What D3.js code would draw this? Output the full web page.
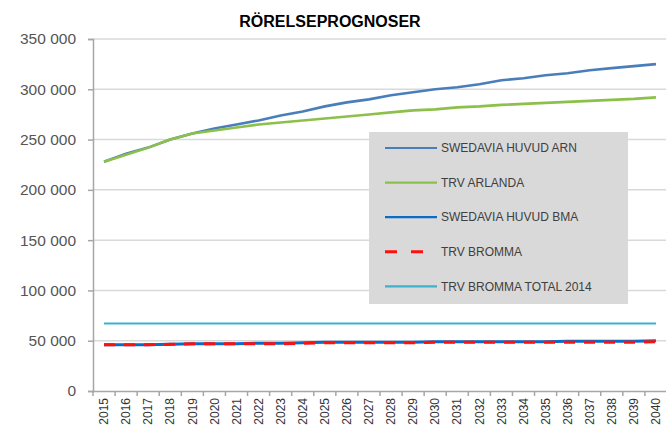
<!DOCTYPE html>
<html>
<head>
<meta charset="utf-8">
<script src="https://cdn.jsdelivr.net/npm/d3@7"></script>
<style>
  body { margin: 0; background: #fff; }
  text { font-family: "Liberation Sans Narrow", "Liberation Sans", Arial, sans-serif; }
</style>
</head>
<body>
<script>
var w = 666;
var h = 434;
var padding = { left: 93, right: -1, top: 39, bottom: 43 };

var years = d3.range(2015, 2041).map(String);
var arnSwedavia = [228000, 236000, 242000, 250000, 256000, 261000, 265000, 269000, 274000, 278000, 283000, 287000, 290000,
  294000, 297000, 300000, 302000, 305000, 309000, 311000, 314000, 316000, 319000, 321000, 323000, 325000];
var arnTrv = [228000, 235000, 242000, 250000, 256000, 259000, 262000, 265000, 267000, 269000, 271000, 273000, 275000,
  277000, 279000, 280000, 282000, 283000, 284500, 285500, 286500, 287500, 288500, 289500, 290500, 292000];
var bmaSwedavia = [46000, 46000, 46000, 46500, 47000, 47000, 47000, 47500, 47500, 48000, 48500, 48500, 48500,
  48500, 48500, 49000, 49000, 49000, 49000, 49000, 49000, 49500, 49500, 49500, 49500, 50000];
var bmaTrv = [46000, 46000, 46000, 46500, 47000, 47000, 47000, 47000, 47000, 47500, 48000, 48000, 48000,
  48000, 48000, 48500, 48500, 48500, 48500, 48500, 48500, 48500, 48500, 48500, 48500, 49000];
var bmaTotal2014 = years.map(function () { return 67000; });
var yTicks = [0, 50000, 100000, 150000, 200000, 250000, 300000, 350000];

var series = [
  { name: "SWEDAVIA HUVUD ARN", values: arnSwedavia, color: "#4a7ebb", width: 2.6, dash: null },
  { name: "TRV ARLANDA", values: arnTrv, color: "#8cc04b", width: 2.6, dash: null },
  { name: "SWEDAVIA HUVUD BMA", values: bmaSwedavia, color: "#0a6cc4", width: 3, dash: null },
  { name: "TRV BROMMA", values: bmaTrv, color: "#ff1010", width: 3, dash: "11,9" },
  { name: "TRV BROMMA TOTAL 2014", values: bmaTotal2014, color: "#3fb0cc", width: 2, dash: null }
];

var svg = d3.select("body").append("svg")
  .attr("width", w)
  .attr("height", h);

var xScale = d3.scaleBand().domain(years).range([padding.left, w - padding.right]);
var yScale = d3.scaleLinear().domain([0, 350000]).range([h - padding.bottom, padding.top]);

var fmt = function (v) { return v === 0 ? "0" : d3.format(",")(v).replace(",", " "); };

// gridlines
svg.append("g").selectAll("line")
  .data(yTicks.filter(function (d) { return d > 0; }))
  .enter().append("line")
  .attr("x1", padding.left).attr("x2", w)
  .attr("y1", function (d) { return yScale(d); })
  .attr("y2", function (d) { return yScale(d); })
  .attr("stroke", "#d9d9d9").attr("stroke-width", 1.5);

// y axis
var yAxis = d3.axisLeft(yScale).tickValues(yTicks).tickFormat(fmt).tickSize(5).tickPadding(12);
var gy = svg.append("g")
  .attr("transform", "translate(" + padding.left + ",0)")
  .call(yAxis);
gy.select(".domain").attr("stroke", "#a6a6a6").attr("stroke-width", 1.5);
gy.selectAll(".tick line").attr("stroke", "#a6a6a6").attr("stroke-width", 1.5);
gy.selectAll(".tick text").attr("fill", "#555").style("font-size", "15.5px")
  .style("font-family", "'Liberation Sans Narrow', 'Liberation Sans', Arial, sans-serif");

// x axis
var xAxis = d3.axisBottom(xScale).tickSize(0).tickPadding(6);
var gx = svg.append("g")
  .attr("transform", "translate(0," + (h - padding.bottom) + ")")
  .call(xAxis);
gx.select(".domain").attr("stroke", "#a6a6a6").attr("stroke-width", 1.5);
gx.selectAll(".tick text")
  .attr("fill", "#333")
  .style("font-size", "12px")
  .attr("transform", "rotate(-90)")
  .attr("text-anchor", "end")
  .attr("x", -7)
  .attr("y", 0)
  .attr("dy", "0.35em");
// category separator ticks
svg.append("g").selectAll("line")
  .data(years)
  .enter().append("line")
  .attr("x1", function (d) { return xScale(d); })
  .attr("x2", function (d) { return xScale(d); })
  .attr("y1", h - padding.bottom)
  .attr("y2", h - padding.bottom + 5)
  .attr("stroke", "#a6a6a6").attr("stroke-width", 1.5);

// lines
var line = d3.line()
  .x(function (d, i) { return xScale(years[i]) + xScale.bandwidth() / 2; })
  .y(function (d) { return yScale(d); });

svg.append("g").selectAll("path")
  .data(series)
  .enter().append("path")
  .attr("fill", "none")
  .attr("stroke", function (d) { return d.color; })
  .attr("stroke-width", function (d) { return d.width; })
  .attr("stroke-dasharray", function (d) { return d.dash; })
  .attr("d", function (d) { return line(d.values); });

// title
svg.append("text")
  .attr("x", 330).attr("y", 27)
  .attr("text-anchor", "middle")
  .attr("fill", "#000")
  .style("font-size", "16px")
  .style("font-weight", "bold")
  .text("RÖRELSEPROGNOSER");

// legend
var legend = svg.append("g").attr("transform", "translate(369,132)");
legend.append("rect")
  .attr("width", 259).attr("height", 172)
  .attr("fill", "#d9d9d9");
var item = legend.selectAll("g.item")
  .data(series)
  .enter().append("g")
  .attr("class", "item")
  .attr("transform", function (d, i) { return "translate(0," + (16 + i * 34.6) + ")"; });
item.append("line")
  .attr("x1", 16).attr("x2", 68)
  .attr("stroke", function (d) { return d.color; })
  .attr("stroke-width", function (d) { return d.dash ? 3 : 2.2; })
  .attr("stroke-dasharray", function (d) { return d.dash ? "12,14" : null; });
item.append("text")
  .attr("x", 72).attr("dy", "0.35em")
  .attr("fill", "#404040")
  .style("font-size", "12px")
  .text(function (d) { return d.name; });
</script>
</body>
</html>
